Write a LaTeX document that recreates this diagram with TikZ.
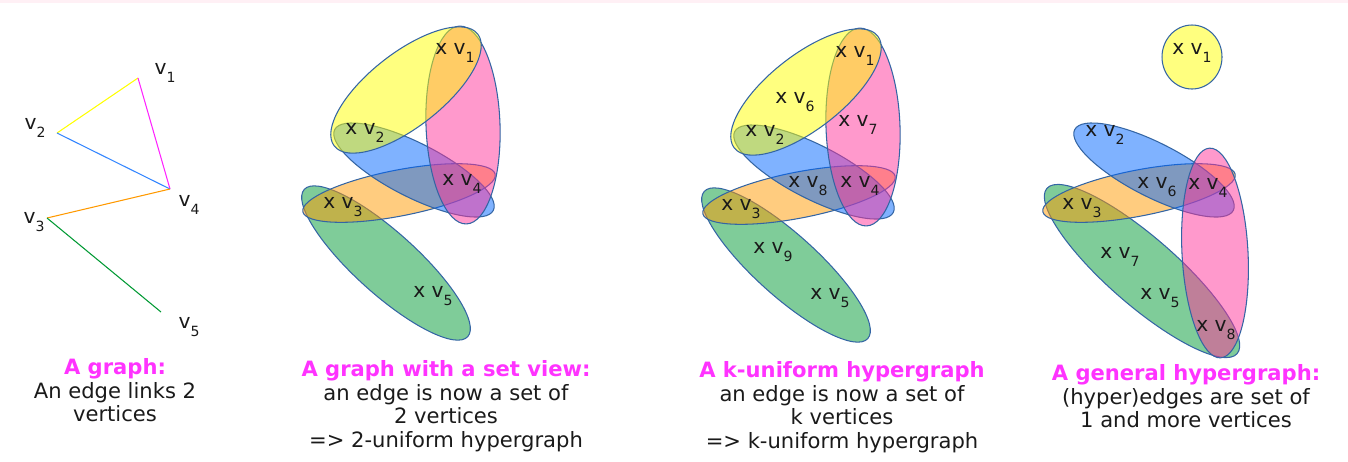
\documentclass[tikz,border=0pt]{standalone}
\usepackage{fontspec}
\setmainfont{DejaVu Sans}
\usetikzlibrary{positioning}
\definecolor{hgyellow}{HTML}{FFFF00}
\definecolor{hgpink}{HTML}{FF3399}
\definecolor{hgblue}{HTML}{0066FF}
\definecolor{hgorange}{HTML}{FF9900}
\definecolor{hggreen}{HTML}{009933}
\definecolor{hgmagenta}{HTML}{FF22FF}
\definecolor{hgborder}{HTML}{3465A4}
\definecolor{hgtitle}{HTML}{FF33FF}
\definecolor{hgtext}{HTML}{1A1A1A}
\definecolor{hgband}{HTML}{FFF0F5}
\newcommand{\vsub}[1]{v\raisebox{-0.7ex}{\fontsize{8}{8}\selectfont #1}}
\tikzset{
  hedge/.style={draw=hgborder,line width=0.6pt,fill opacity=0.5},
  vlab/.style={font=\fontsize{11.5}{12}\selectfont,text=hgtext,inner sep=0pt},
  capt/.style={align=center,anchor=north,font=\fontsize{12}{13.5}\selectfont,text=hgtext,inner sep=0pt},
  gedge/.style={line width=0.6pt},
}
\newcommand{\ttl}[1]{\textcolor{hgtitle}{\bfseries #1}}

\begin{document}
\begin{tikzpicture}[x=0.02cm,y=-0.02cm]
  \useasboundingbox (0,0) rectangle (1348,461);
  \fill[hgband] (0,0) rectangle (1348,3);
  % plain graph
  \coordinate (g1) at (138,78);
  \coordinate (g2) at (57,133);
  \coordinate (g3) at (47,218);
  \coordinate (g4) at (170,189);
  \coordinate (g5) at (161,312);
  \draw[gedge,hgyellow] (g2) -- (g1);
  \draw[gedge,hgmagenta] (g1) -- (g4);
  \draw[gedge,hgblue!80] (g2) -- (g4);
  \draw[gedge,hgorange] (g3) -- (g4);
  \draw[gedge,hggreen] (g3) -- (g5);
  \foreach \n/\x/\y in {1/165/73,2/35/128,3/34/222,4/189/205,5/189/327}
    \node[vlab] (g\n lab) at (\x,\y) {\vsub{\n}};
  \node[capt] (cap1) at (115,358) {\ttl{A graph:}\\An edge links 2\\vertices};

  % set view and k-uniform
  \foreach \dx/\dy in {0/0,400/2}{
    \begin{scope}[shift={(\dx,\dy)}]
      \draw[hedge,fill=hggreen,rotate around={-42:(386,263)}] (386,263) ellipse [x radius=110,y radius=31];
      \draw[hedge,fill=hgorange,rotate around={11:(399,193)}] (399,193) ellipse [x radius=98,y radius=23];
      \draw[hedge,fill=hgblue,rotate around={-27:(414,170)}] (414,170) ellipse [x radius=89,y radius=27];
      \draw[hedge,fill=hgpink,rotate around={2:(463,125)}] (463,125) ellipse [x radius=37,y radius=99];
      \draw[hedge,fill=hgyellow,rotate around={38:(406,90)}] (406,90) ellipse [x radius=91,y radius=37];
    \end{scope}}
  \foreach \n/\x/\y in {1/455/53,2/365/133,3/343/207,4/462/184,5/433/296}
    \node[vlab] (s\n) at (\x,\y) {x \vsub{\n}};
  \foreach \n/\x/\y in {1/855/56,2/765/135,3/741/209,4/860/186,5/830/298,6/795/102,7/858/125,8/808/186,9/773/252}
    \node[vlab] (k\n) at (\x,\y) {x \vsub{\n}};
  \node[capt] (cap2) at (446,360) {\ttl{A graph with a set view:}\\an edge is now a set of\\2 vertices\\=> 2-uniform hypergraph};
  \node[capt] (cap3) at (842,361) {\ttl{A k-uniform hypergraph}\\an edge is now a set of\\k vertices\\=> k-uniform hypergraph};

  % general hypergraph
  \draw[hedge,fill=hgyellow] (1192,57) ellipse [x radius=30,y radius=32];
  \draw[hedge,fill=hggreen,rotate around={-41:(1142,271)}] (1142,271) ellipse [x radius=126,y radius=34];
  \draw[hedge,fill=hgorange,rotate around={11:(1139,193)}] (1139,193) ellipse [x radius=98,y radius=23];
  \draw[hedge,fill=hgblue,rotate around={-27:(1154,170)}] (1154,170) ellipse [x radius=89,y radius=27];
  \draw[hedge,fill=hgpink,rotate around={3:(1215,253)}] (1215,253) ellipse [x radius=33,y radius=105];
  \foreach \n/\x/\y in {1/1192/53,2/1105/135,3/1082/208,4/1208/188,5/1160/298,6/1157/187,7/1120/257,8/1216/330}
    \node[vlab] (h\n) at (\x,\y) {x \vsub{\n}};
  \node[capt] (cap4) at (1186,364) {\ttl{A general hypergraph:}\\(hyper)edges are set of\\1 and more vertices};
\end{tikzpicture}
\end{document}
